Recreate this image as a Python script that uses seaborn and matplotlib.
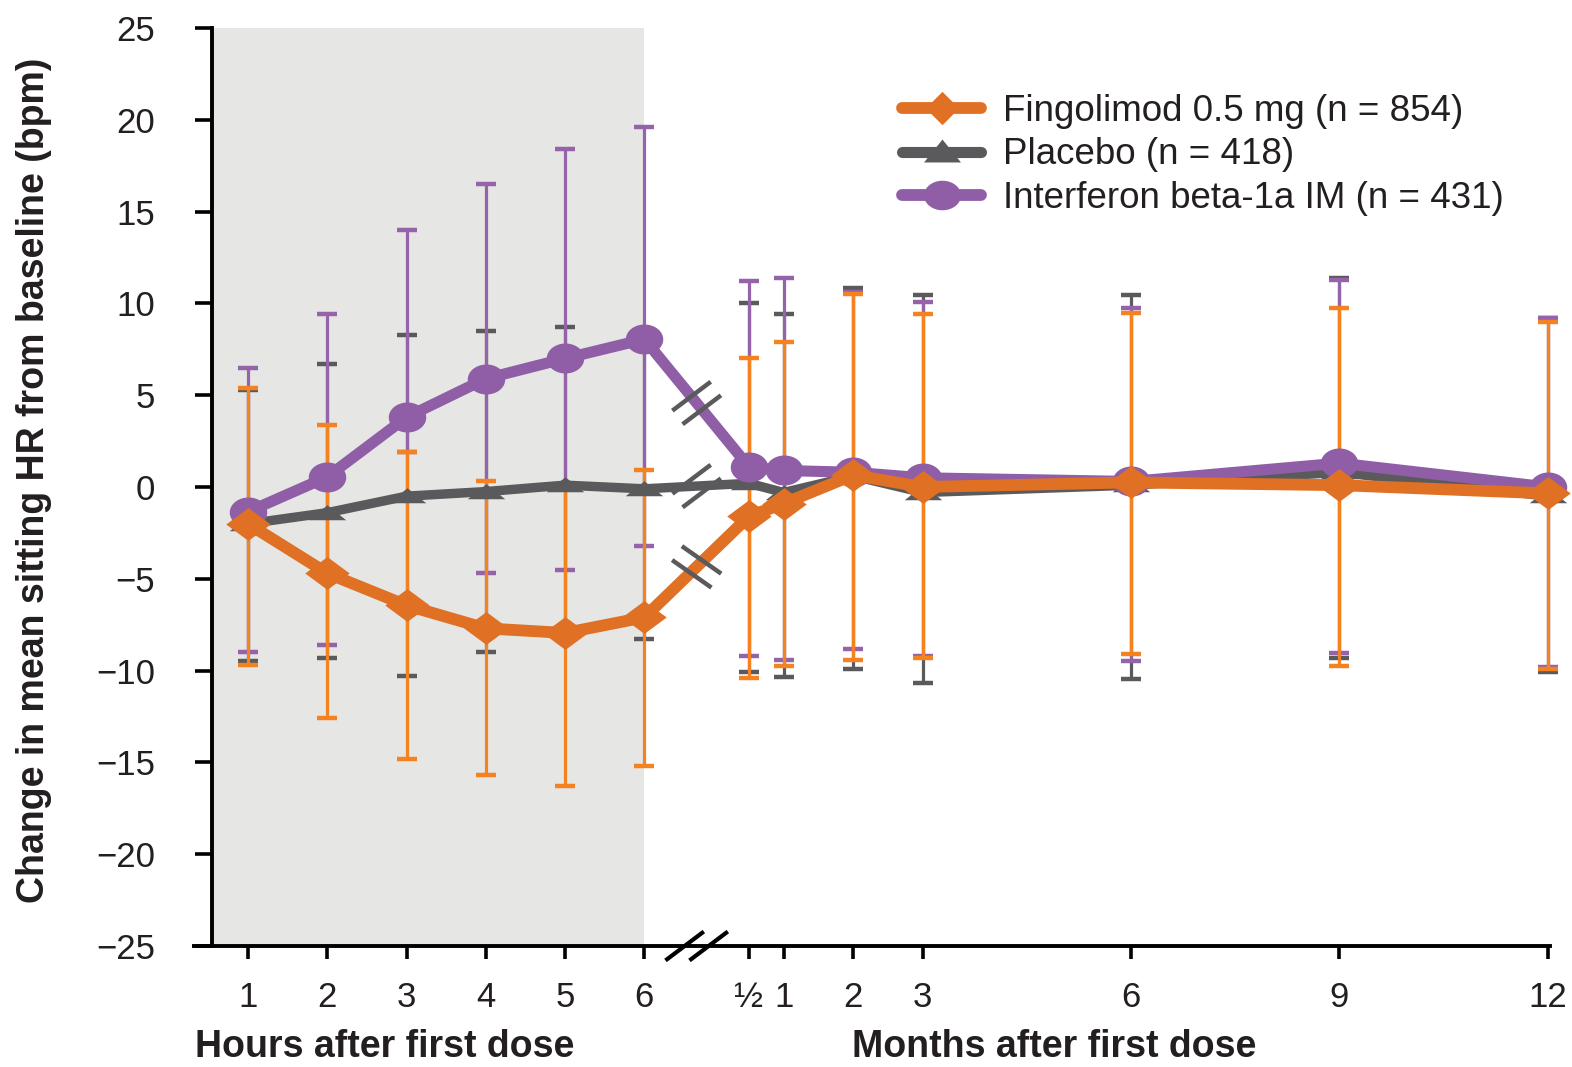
import numpy as np
import pandas as pd
import matplotlib
matplotlib.use("Agg")
import matplotlib.pyplot as plt
import seaborn as sns
from matplotlib.lines import Line2D
from matplotlib.path import Path

# ---------------- data ----------------
hours = [1, 2, 3, 4, 5, 6]
months = [0.5, 1, 2, 3, 6, 9, 12]
hour_labels = ["1", "2", "3", "4", "5", "6"]
month_labels = ["½", "1", "2", "3", "6", "9", "12"]

series_names = ["Fingolimod 0.5 mg (n = 854)", "Placebo (n = 418)",
                "Interferon beta-1a IM (n = 431)"]

fingo_mean = [-2.0, -4.7, -6.45, -7.7, -7.95, -7.1, -1.6, -0.9, 0.65, 0.0, 0.25, 0.1, -0.35]
fingo_upper = [5.4, 3.4, 1.9, 0.3, 0.1, 0.9, 7.0, 7.9, 10.5, 9.4, 9.5, 9.75, 9.0]
fingo_lower = [-9.7, -12.6, -14.8, -15.7, -16.3, -15.2, -10.4, -9.75, -9.4, -9.3, -9.1, -9.75, -9.9]

placebo_mean = [-2.0, -1.4, -0.5, -0.25, 0.1, -0.1, 0.2, -0.3, 0.6, -0.3, 0.1, 0.8, -0.5]
placebo_upper = [5.3, 6.7, 8.3, 8.5, 8.7, 8.1, 10.0, 9.4, 10.85, 10.45, 10.45, 11.4, 9.2]
placebo_lower = [-9.5, -9.3, -10.3, -9.0, -8.0, -8.3, -10.1, -10.35, -9.9, -10.7, -10.45, -9.3, -10.1]

ifn_mean = [-1.35, 0.55, 3.8, 5.9, 7.0, 8.05, 1.1, 0.9, 0.8, 0.5, 0.3, 1.3, 0.0]
ifn_upper = [6.5, 9.4, 14.0, 16.5, 18.4, 19.6, 11.2, 11.4, 10.6, 10.1, 9.75, 11.3, 9.2]
ifn_lower = [-9.0, -8.6, 1.9, -4.7, -4.5, -3.2, -9.2, -9.4, -8.8, -9.2, -9.5, -9.05, -9.8]

# ---------------- style ----------------
sns.set_theme(style="white")
plt.rcParams["font.family"] = ["Liberation Sans", "DejaVu Sans"]
plt.rcParams["axes.unicode_minus"] = True

ORANGE_LINE = "#e07024"
ORANGE_ERR = "#f58220"
GRAY = "#5a5a5c"
PURPLE = "#8f5ea6"
PURPLE_ERR = "#9463aa"
TXT = "#231f20"

# position mapping (broken time axis: hours, then months)
HOUR_STEP = 1.141
MONTH_OFFSET = 6.71
x_hours = [(h - 1) * HOUR_STEP for h in hours]
x_months = [MONTH_OFFSET + m for m in months]
xpos = np.array(x_hours + x_months)

fig = plt.figure(figsize=(15.72, 10.67), dpi=100)
ax = fig.add_axes([212 / 1572, 1 - 946 / 1067, (1550 - 212) / 1572, (946 - 28) / 1067])
ax.set_xlim(-0.518, 18.74)
ax.set_ylim(-25, 25)

# shaded hours region
ax.axvspan(-0.518, x_hours[-1], color="#e6e6e5", zorder=0, lw=0)

# custom markers
diamond = Path([(-1, 0), (0, 0.74), (1, 0), (0, -0.74), (-1, 0)],
               [Path.MOVETO, Path.LINETO, Path.LINETO, Path.LINETO, Path.CLOSEPOLY])
tri = Path([(-1, -0.36), (0, 0.44), (1, -0.36), (-1, -0.36)],
           [Path.MOVETO, Path.LINETO, Path.LINETO, Path.CLOSEPOLY])
th = np.linspace(0, 2 * np.pi, 60)
ell = Path(np.column_stack([np.cos(th), 0.8 * np.sin(th)]), closed=True)
leg_diamond = Path([(-1, 0), (0, 1), (1, 0), (0, -1), (-1, 0)],
                   [Path.MOVETO, Path.LINETO, Path.LINETO, Path.LINETO, Path.CLOSEPOLY])
leg_tri = Path([(-1, -0.54), (0, 0.70), (1, -0.54), (-1, -0.54)],
               [Path.MOVETO, Path.LINETO, Path.LINETO, Path.CLOSEPOLY])

specs = [
    # name, mean, lo, hi, line color, err color, marker, ms, lw, zorder
    (series_names[1], placebo_mean, placebo_lower, placebo_upper, GRAY, GRAY, tri, 27, 6.8, 3),
    (series_names[2], ifn_mean, ifn_lower, ifn_upper, PURPLE, PURPLE_ERR, ell, 27, 8.0, 4),
    (series_names[0], fingo_mean, fingo_lower, fingo_upper, ORANGE_LINE, ORANGE_ERR, diamond, 32, 8.5, 5),
]

# error bars first
for i, (name, mean, lo, hi, lc, ec, mk, ms, lw, z) in enumerate(specs):
    mean = np.array(mean); lo = np.array(lo); hi = np.array(hi)
    eb = ax.errorbar(xpos, mean, yerr=[mean - lo, hi - mean], fmt="none",
                     ecolor=ec, elinewidth=2.3, capsize=7.2, capthick=3.2,
                     zorder=1 + i * 0.1)
    for art in list(eb.lines[1]) + list(eb.lines[2]):
        art.set_clip_on(False)

# lines with seaborn
for name, mean, lo, hi, lc, ec, mk, ms, lw, z in specs:
    df = pd.DataFrame({"x": xpos, "y": mean})
    sns.lineplot(data=df, x="x", y="y", ax=ax, color=lc, linewidth=lw,
                 marker=mk, markersize=ms, markeredgewidth=0, errorbar=None,
                 sort=False, zorder=z, clip_on=False)

# break slashes on the series lines
fig.canvas.draw()
inv = ax.transData.inverted()
def slash_pair(cx, cy, angle_deg, length=48, sep=17, lw=3.2, color=GRAY, z=6):
    a = np.deg2rad(angle_deg)
    d = np.array([np.cos(a), np.sin(a)])
    p = np.array([-np.sin(a), np.cos(a)])
    for s in (-0.5, 0.5):
        c = np.array([cx, cy]) + p * sep * s
        pts = np.array([c - d * length / 2, c + d * length / 2])
        dp = inv.transform(pts)
        ax.add_line(Line2D(dp[:, 0], dp[:, 1], color=color, lw=lw,
                           solid_capstyle="butt", zorder=z, clip_on=False))

for name, mean, lo, hi, lc, ec, mk, ms, lw, z in specs:
    p0 = ax.transData.transform((xpos[5], mean[5]))
    p1 = ax.transData.transform((xpos[6], mean[6]))
    mid = (p0 + p1) / 2
    up = (p1[1] - p0[1]) > 20
    slash_pair(mid[0], mid[1], -35 if up else 37)

# x-axis break
x_mid = (xpos[5] + xpos[6]) / 2
pb = ax.transData.transform((x_mid, -25))
for s in (-12, 12):
    c = np.array([pb[0] + s, pb[1]])
    a = np.deg2rad(37)
    d = np.array([np.cos(a), np.sin(a)])
    pts = inv.transform(np.array([c - d * 24, c + d * 24]))
    ax.add_line(Line2D(pts[:, 0], pts[:, 1], color="black", lw=3.0,
                       solid_capstyle="butt", zorder=7, clip_on=False))

# small left extension of the x axis line
ax.add_line(Line2D([-0.015, 0], [0, 0], transform=ax.transAxes, color="black",
                   lw=2.8, clip_on=False, solid_capstyle="butt"))

# axes styling
for sp in ["top", "right"]:
    ax.spines[sp].set_visible(False)
for sp in ["left", "bottom"]:
    ax.spines[sp].set_linewidth(2.8)
    ax.spines[sp].set_color("black")

ax.set_xticks(xpos)
ax.set_xticklabels(hour_labels + month_labels)
ax.set_yticks(np.arange(-25, 26, 5))
ax.tick_params(axis="x", direction="out", length=9.5, width=2.6, pad=16,
               labelsize=25, colors="black", labelcolor=TXT, bottom=True)
ax.tick_params(axis="y", direction="out", length=12, width=2.6, pad=29,
               labelsize=25, colors="black", labelcolor=TXT, left=True)
ax.set_xlabel("")
ax.set_ylabel("")
ax.grid(False)

fig.text(34 / 1572, 1 - 480 / 1067, "Change in mean sitting HR from baseline (bpm)",
         rotation=90, ha="center", va="center", fontsize=27, fontweight="bold", color=TXT)
fig.text(385 / 1572, 2 / 1067, "Hours after first dose", ha="center", va="bottom",
         fontsize=27, fontweight="bold", color=TXT)
fig.text(1054 / 1572, 2 / 1067, "Months after first dose", ha="center", va="bottom",
         fontsize=27, fontweight="bold", color=TXT)

# legend
handles = [
    Line2D([], [], color=ORANGE_LINE, lw=8.5, marker=leg_diamond, markersize=24, markeredgewidth=0),
    Line2D([], [], color=GRAY, lw=8.0, marker=leg_tri, markersize=26.6, markeredgewidth=0),
    Line2D([], [], color=PURPLE, lw=8.5, marker=ell, markersize=26.6, markeredgewidth=0),
]
leg = ax.legend(handles, series_names, loc="upper left",
                bbox_to_anchor=(902 / 1572, 1 - 94 / 1067), bbox_transform=fig.transFigure,
                frameon=False, fontsize=26.5, handlelength=2.15, handletextpad=0.6,
                labelspacing=0.23, borderpad=0, borderaxespad=0)
for t in leg.get_texts():
    t.set_color(TXT)

fig.savefig("out.png", dpi=100)
